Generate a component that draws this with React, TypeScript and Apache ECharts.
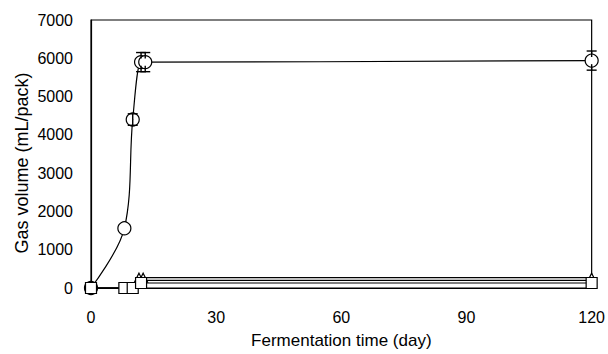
import React, { useEffect, useRef } from "react";
import * as echarts from "echarts";

const circleDays = [0, 8, 10, 12, 13, 120];
const circleVals = [0, 1560, 4400, 5900, 5900, 5940];
const circleErr = [0, 0, 150, 250, 250, 250];
const triDays = [0, 8, 10, 11.5, 12.5, 120];
const triVals = [0, 0, 0, 270, 270, 270];
const midDays = [0, 8, 10, 12, 120];
const midVals = [0, 0, 0, 200, 200];
const sqDays = [0, 8, 10, 12, 120];
const sqVals = [0, 0, 0, 130, 130];
const xTicks = [0, 30, 60, 90, 120];
const yTitle = "Gas volume (mL/pack)";
const xTitle = "Fermentation time (day)";

const pairs = (xs: number[], ys: number[]) => xs.map((x, i) => [x, ys[i]]);

export default function App() {
  const ref = useRef<HTMLDivElement>(null);
  useEffect(() => {
    const chart = echarts.init(ref.current!, null, { renderer: "svg" });
    const font = "Liberation Sans, Arial, sans-serif";
    const errData = circleDays
      .map((d, i) => [d, circleVals[i], circleErr[i]])
      .filter((r) => r[2] > 0);
    chart.setOption({
      animation: false,
      backgroundColor: "#fff",
      grid: { left: 91, right: 12, top: 20, bottom: 61, show: true, borderColor: "#000", borderWidth: 1.2 },
      graphic: [
        {
          type: "text",
          x: 22,
          y: 163,
          rotation: Math.PI / 2,
          style: { text: yTitle, fontFamily: font, fontSize: 18, fill: "#000", textAlign: "center", textVerticalAlign: "middle" },
        },
      ],
      xAxis: {
        type: "value",
        min: 0,
        max: 120,
        interval: 30,
        name: xTitle,
        nameLocation: "middle",
        nameGap: 44,
        nameTextStyle: { fontFamily: font, fontSize: 17, color: "#000" },
        axisLine: { lineStyle: { color: "#000", width: 1.2 } },
        axisTick: { show: false },
        splitLine: { show: false },
        axisLabel: { fontFamily: font, fontSize: 16, color: "#000", margin: 21, formatter: (v: number) => (xTicks.includes(v) ? String(v) : "") },
      },
      yAxis: {
        type: "value",
        min: 0,
        max: 7000,
        interval: 1000,
        axisLine: { lineStyle: { color: "#000", width: 1.2 } },
        axisTick: { show: false },
        splitLine: { show: false },
        axisLabel: { fontFamily: font, fontSize: 16, color: "#000", margin: 18, formatter: (v: number) => String(v) },
      },
      series: [
        {
          type: "line",
          data: pairs(sqDays, sqVals),
          symbol: "rect",
          symbolSize: 11,
          itemStyle: { color: "#fff", borderColor: "#000", borderWidth: 1.2 },
          lineStyle: { color: "#000", width: 1.2 },
          z: 6,
        },
        {
          type: "line",
          data: pairs(midDays, midVals),
          symbol: "none",
          lineStyle: { color: "#000", width: 1.2 },
          z: 2,
        },
        {
          type: "line",
          data: pairs(triDays, triVals),
          symbol: "triangle",
          symbolSize: 9,
          itemStyle: { color: "#fff", borderColor: "#000", borderWidth: 1.2 },
          lineStyle: { color: "#000", width: 1.2 },
          z: 2,
        },
        {
          type: "line",
          data: pairs(circleDays, circleVals),
          smooth: 0.35,
          symbol: "circle",
          symbolSize: 13,
          itemStyle: { color: "#fff", borderColor: "#000", borderWidth: 1.2 },
          lineStyle: { color: "#000", width: 1.2 },
          z: 4,
        },
        {
          type: "custom",
          data: errData,
          z: 5,
          renderItem: (params: any, api: any) => {
            const x = api.value(0);
            const y = api.value(1);
            const e = api.value(2);
            const hi = api.coord([x, y + e]);
            const lo = api.coord([x, y - e]);
            const w = 5;
            const s = { stroke: "#000", lineWidth: 1.4 };
            return {
              type: "group",
              children: [
                { type: "line", shape: { x1: hi[0], y1: hi[1], x2: hi[0], y2: hi[1] + 6 }, style: s },
                { type: "line", shape: { x1: lo[0], y1: lo[1], x2: lo[0], y2: lo[1] - 6 }, style: s },
                { type: "line", shape: { x1: hi[0] - w, y1: hi[1], x2: hi[0] + w, y2: hi[1] }, style: s },
                { type: "line", shape: { x1: lo[0] - w, y1: lo[1], x2: lo[0] + w, y2: lo[1] }, style: s },
              ],
            };
          },
        },
      ],
    });
    return () => chart.dispose();
  }, []);
  return <div ref={ref} style={{ width: 608, height: 354, position: "absolute", left: 0, top: 0 }} />;
}
